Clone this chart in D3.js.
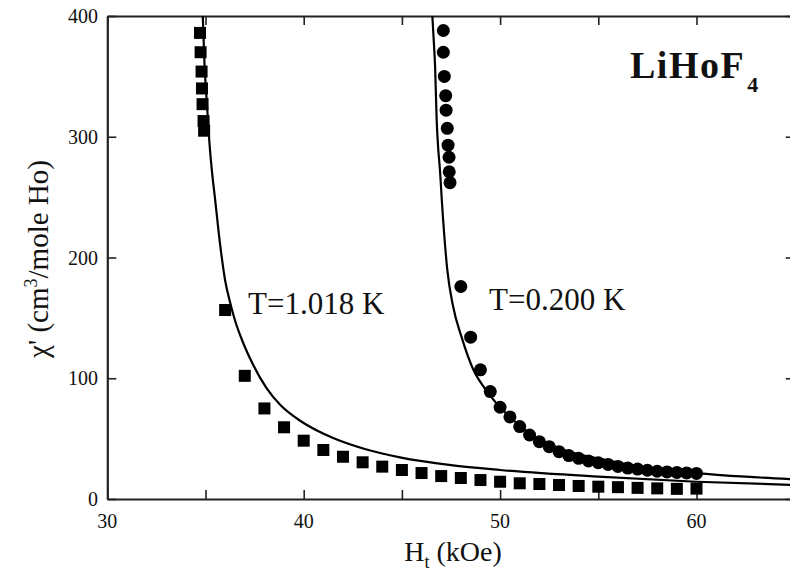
<!DOCTYPE html>
<html><head><meta charset="utf-8">
<script src="https://cdn.jsdelivr.net/npm/d3@7"></script>
<style>html,body{margin:0;padding:0;background:#fff;}svg{display:block;}</style>
</head><body>
<svg id="chart" width="790" height="573"></svg>
<script>
// ---- data ----
const sqH = [34.72,34.75,34.80,34.82,34.85,34.90,34.93,36,37,38,39,40,41,42,43,44,45,46,47,48,49,50,51,52,53,54,55,56,57,58,59,60];
const sqChi = [386,370,354,340,327,313,305,156.5,102,75,59.4,48.3,40.6,35,30.4,26.8,24,21.5,19,17.4,15.7,14.3,13,12.4,11.6,10.8,10.2,9.8,9.2,8.8,8.4,8.6];

const ciH = [47.11,47.11,47.16,47.23,47.25,47.31,47.35,47.40,47.41,47.45,48,48.5,49,49.5,50,50.5,51,51.5,52,52.5,53,53.5,54,54.5,55,55.5,56,56.5,57,57.5,58,58.5,59,59.5,60];
const ciChi = [388,370,350,334,322,307,293,283,271,262,176,134,107,89,76,68,60,53,47.5,43.3,39.2,36,33.7,31.5,30,28.6,27,25.6,24.8,23.8,23,22.4,22,21.6,21.2];

const c1H = [34.86,34.95,35.06,35.2,35.35,35.49,35.75,36.0,36.25,36.5,36.9,37.4,38.1,38.8,39.8,40.7,41.5,43.2,44.9,47.5,50,55,60,65];
const c1Chi = [400,360,330,295,268,248,210,181,163,148,130,112,92,78,65,56.5,50.5,41,34.5,28,24,18.5,14.3,11.6];

const c2H = [46.55,46.62,46.69,46.77,46.85,46.94,47.03,47.31,47.6,48.04,48.64,49.2,49.83,50.7,51.69,53.0,55.43,57.5,60,62.5,65];
const c2Chi = [400,380,358,314,290,272,248,190,160,134,107,92,79,65,52,42,32,26,21.5,18.5,16.3];

const xTicks = [30,35,40,45,50,55,60,65];
const xLabels = [30,40,50,60];
const yTicks = [0,100,200,300,400];

// ---- layout ----
const svg = d3.select("#chart");
const PL = 107.3, PR = 794.7, PT = 16, PB = 499;
const x = d3.scaleLinear().domain([30,65]).range([PL,PR]);
const y = d3.scaleLinear().domain([0,400]).range([PB,PT]);
const font = "'Liberation Serif','Times New Roman',serif";

svg.append("defs").append("clipPath").attr("id","clip")
  .append("rect").attr("x",PL).attr("y",PT).attr("width",PR-PL).attr("height",PB-PT);

// axes
const tickLen = 9;
const axB = d3.axisBottom(x).tickValues(xTicks).tickSizeInner(-tickLen).tickSizeOuter(0).tickFormat("");
const axT = d3.axisTop(x).tickValues(xTicks).tickSizeInner(-tickLen).tickSizeOuter(0).tickFormat("");
const axL = d3.axisLeft(y).tickValues(yTicks).tickSizeInner(-tickLen).tickSizeOuter(0).tickFormat("");
const axR = d3.axisRight(y).tickValues(yTicks).tickSizeInner(-tickLen).tickSizeOuter(0).tickFormat("");
function styleAxis(g){ g.selectAll("path").attr("stroke","#222").attr("stroke-width",2.2);
  g.selectAll("line").attr("stroke","#222").attr("stroke-width",1.6); }
svg.append("g").attr("transform",`translate(0,${PB})`).call(axB).call(styleAxis);
svg.append("g").attr("transform",`translate(0,${PT})`).call(axT).call(styleAxis);
svg.append("g").attr("transform",`translate(${PL},0)`).call(axL).call(styleAxis);
svg.append("g").attr("transform",`translate(${PR},0)`).call(axR).call(styleAxis);

// tick labels
svg.append("g").selectAll("text").data(xLabels).join("text")
  .attr("x",d=>x(d)).attr("y",528).attr("text-anchor","middle")
  .attr("font-family",font).attr("font-size",20).attr("fill","#111").text(d=>d);
svg.append("g").selectAll("text").data(yTicks).join("text")
  .attr("x",98).attr("y",d=>y(d)+7).attr("text-anchor","end")
  .attr("font-family",font).attr("font-size",20).attr("fill","#111").text(d=>d);

// axis titles
const xt = svg.append("text").attr("x",453).attr("y",561).attr("text-anchor","middle")
  .attr("font-family",font).attr("font-size",28).attr("fill","#111");
xt.append("tspan").text("H");
xt.append("tspan").attr("font-size",18).attr("dy",7).text("t");
xt.append("tspan").attr("dy",-7).text(" (kOe)");

const yt = svg.append("text").attr("transform","translate(48,259) rotate(-90)").attr("text-anchor","middle")
  .attr("font-family",font).attr("font-size",29).attr("fill","#111");
yt.append("tspan").text("χ' (cm");
yt.append("tspan").attr("font-size",18).attr("dy",-11).text("3");
yt.append("tspan").attr("dy",11).text("/mole Ho)");

// curves
const line = d3.line().x(d=>x(d[0])).y(d=>y(d[1])).curve(d3.curveMonotoneX);
const gp = svg.append("g").attr("clip-path","url(#clip)");
gp.append("path").datum(c1H.map((h,i)=>[h,c1Chi[i]])).attr("d",line)
  .attr("fill","none").attr("stroke","#000").attr("stroke-width",2.2);
gp.append("path").datum(c2H.map((h,i)=>[h,c2Chi[i]])).attr("d",line)
  .attr("fill","none").attr("stroke","#000").attr("stroke-width",2.2);

// markers
const s = 12;
gp.selectAll("rect.sq").data(sqH.map((h,i)=>[h,sqChi[i]])).join("rect").attr("class","sq")
  .attr("x",d=>x(d[0])-s/2).attr("y",d=>y(d[1])-s/2).attr("width",s).attr("height",s).attr("fill","#000");
gp.selectAll("circle.ci").data(ciH.map((h,i)=>[h,ciChi[i]])).join("circle").attr("class","ci")
  .attr("cx",d=>x(d[0])).attr("cy",d=>y(d[1])).attr("r",6.5).attr("fill","#000");

// annotations
svg.append("text").attr("x",248).attr("y",314).attr("font-family",font).attr("font-size",31)
  .attr("fill","#111").text("T=1.018 K");
svg.append("text").attr("x",489).attr("y",310).attr("font-family",font).attr("font-size",31)
  .attr("fill","#111").text("T=0.200 K");
const lt = svg.append("text").attr("x",630).attr("y",78).attr("font-family",font).attr("font-size",38)
  .attr("font-weight","bold").attr("letter-spacing",1.5).attr("fill","#111");
lt.append("tspan").text("LiHoF");
lt.append("tspan").attr("font-size",22).attr("dy",14).attr("dx",2).text("4");
</script>
</body></html>
